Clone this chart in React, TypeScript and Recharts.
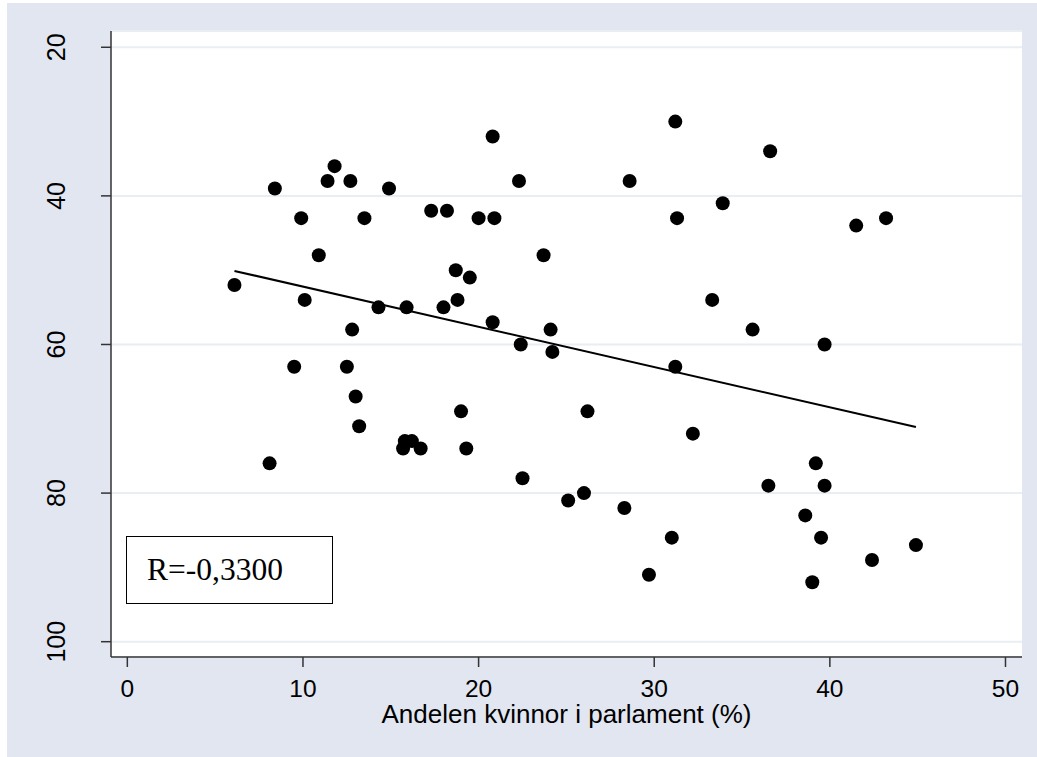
import React from "react";
import { ScatterChart, Scatter, XAxis, YAxis, CartesianGrid, ReferenceLine } from "recharts";

// Andelen kvinnor i parlament (%) vs value
const womenShare = [
  6.1, 8.1, 8.4, 9.5, 9.9, 10.1, 10.9, 11.4, 11.8, 12.5, 12.7, 12.8, 13.0, 13.2, 13.5, 14.3, 14.9,
  15.7, 15.8, 15.9, 16.2, 16.7, 17.3, 18.0, 18.2, 18.7, 18.8, 19.0, 19.3, 19.5, 20.0, 20.8, 20.8,
  20.9, 22.3, 22.4, 22.5, 23.7, 24.1, 24.2, 25.1, 26.0, 26.2, 28.3, 28.6, 29.7, 31.0, 31.2, 31.2,
  31.3, 32.2, 33.3, 33.9, 35.6, 36.5, 36.6, 38.6, 39.0, 39.2, 39.5, 39.7, 39.7, 41.5, 42.4, 43.2,
  44.9,
];
const outcome = [
  52, 76, 39, 63, 43, 54, 48, 38, 36, 63, 38, 58, 67, 71, 43, 55, 39,
  74, 73, 55, 73, 74, 42, 55, 42, 50, 54, 69, 74, 51, 43, 32, 57,
  43, 38, 60, 78, 48, 58, 61, 81, 80, 69, 82, 38, 91, 86, 30, 63,
  43, 72, 54, 41, 58, 79, 34, 83, 92, 76, 86, 60, 79, 44, 89, 43,
  87,
];

// fitted line end points
const fitX = [6.1, 44.9];
const fitY = [50.1, 71.1];

const xTicks = [0, 10, 20, 30, 40, 50];
const yTicks = [20, 40, 60, 80, 100];

const points = womenShare.map((x, i) => ({ x, y: outcome[i] }));

const SANS = "'Liberation Sans', Arial, sans-serif";

const XTick = (props: any) => (
  <text x={props.x} y={697} textAnchor="middle" fontSize={24.5} fontFamily={SANS} fill="#000">
    {props.payload.value}
  </text>
);

const YTick = (props: any) => (
  <text
    x={65}
    y={props.y}
    transform={`rotate(-90, 65, ${props.y})`}
    textAnchor="middle"
    fontSize={25}
    fontFamily={SANS}
    fill="#000"
  >
    {props.payload.value}
  </text>
);

const XTitle = (props: any) => {
  const vb = props.viewBox;
  return (
    <text x={vb.x + vb.width / 2} y={723} textAnchor="middle" fontSize={26} fontFamily={SANS} fill="#000">
      Andelen kvinnor i parlament (%)
    </text>
  );
};

const Dot = (props: any) => <circle cx={props.cx} cy={props.cy} r={7} fill="#000" />;

export default function App() {
  return (
    <div style={{ position: "fixed", left: 0, top: 0, width: 1037, height: 757, background: "#fff" }}>
      <div style={{ position: "absolute", left: 7, top: 3, right: 0, bottom: 0, background: "#E1E6F0" }} />
      <div style={{ position: "absolute", left: 0, top: 0 }}>
        <ScatterChart width={1037} height={757} margin={{ top: 31, right: 15, bottom: 0, left: 41 }}>
          <CartesianGrid vertical={false} fill="#fff" stroke="#E8EEF1" strokeWidth={2} />
          <XAxis
            type="number"
            dataKey="x"
            domain={[-0.93, 50.94]}
            ticks={xTicks}
            allowDataOverflow
            height={100}
            tickSize={10}
            axisLine={{ stroke: "#333", strokeWidth: 1.5 }}
            tickLine={{ stroke: "#333", strokeWidth: 1.5 }}
            tick={<XTick />}
            label={<XTitle />}
          />
          <YAxis
            type="number"
            dataKey="y"
            reversed
            domain={[17.81, 102.06]}
            ticks={yTicks}
            allowDataOverflow
            width={70}
            tickSize={10}
            axisLine={{ stroke: "#333", strokeWidth: 1.5 }}
            tickLine={{ stroke: "#333", strokeWidth: 1.5 }}
            tick={<YTick />}
          />
          <Scatter data={points} fill="#000" shape={<Dot />} isAnimationActive={false} />
          <ReferenceLine
            segment={[
              { x: fitX[0], y: fitY[0] },
              { x: fitX[1], y: fitY[1] },
            ]}
            stroke="#000"
            strokeWidth={2}
          />
        </ScatterChart>
      </div>
      <div
        style={{
          position: "absolute",
          left: 126,
          top: 536,
          width: 185,
          height: 66,
          border: "1.5px solid #000",
          background: "#fff",
          fontFamily: "'Liberation Serif', 'Times New Roman', serif",
          fontSize: 31.5,
          lineHeight: "66px",
          paddingLeft: 20,
          boxSizing: "content-box",
          color: "#000",
          whiteSpace: "nowrap",
        }}
      >
        R=-0,3300
      </div>
    </div>
  );
}
